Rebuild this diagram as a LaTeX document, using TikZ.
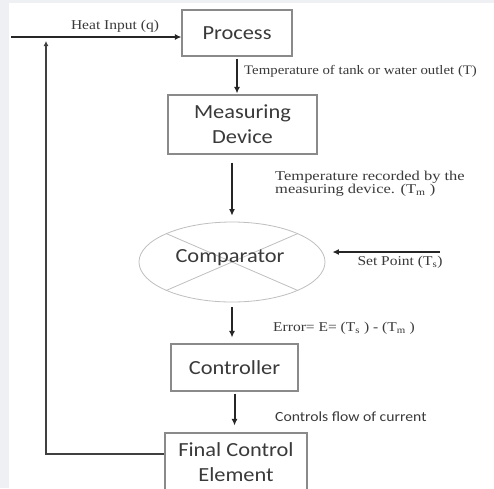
\documentclass[tikz,border=0pt]{standalone}
\usepackage{fontspec}
\usepackage{graphicx}
\setmainfont{Liberation Serif}
\newfontfamily\boxfont{Carlito}
\usetikzlibrary{arrows.meta,shapes.geometric}
\definecolor{bgstrip}{HTML}{EEF0F3}
\definecolor{boxline}{HTML}{8A8A8A}
\definecolor{txt}{HTML}{3A3A3A}
\newcommand{\sxa}[1]{\scalebox{1.12}[1]{#1}}
\newcommand{\sxb}[1]{\scalebox{1.15}[1]{#1}}
\newcommand{\sxc}[1]{\scalebox{1.14}[1]{#1}}
\newcommand{\sxd}[1]{\scalebox{1.22}[1]{#1}}
\begin{document}
\begin{tikzpicture}[x=1pt,y=-1pt,
  blk/.style={draw=boxline,line width=1.1pt,fill=white,font=\boxfont\fontsize{20}{25}\selectfont,text=txt,align=center,inner sep=0pt},
  lbl/.style={font=\fontsize{13.5}{12.5}\selectfont,text=txt,inner sep=0pt},
  arr/.style={line width=2pt,draw=black!85,-{Latex[length=6.5pt,width=6pt]}}]
\clip (0,0) rectangle (494,488);
\fill[bgstrip] (0,0) rectangle (494,488);
\fill[white] (9,3) rectangle (494,488);

\node[blk,minimum width=110pt,minimum height=46pt] (process) at (237,33) {\sxa{Process}};
\node[blk,minimum width=149pt,minimum height=59pt] (meas) at (242.5,124.5) {\sxa{Measuring}\\\sxa{Device}};
\node[ellipse,draw=black!25,line width=0.8pt,minimum width=186pt,minimum height=80pt,inner sep=0pt] (comp) at (232,262) {};
\draw[black!25,line width=0.8pt] (comp.north west) -- (comp.south east);
\draw[black!25,line width=0.8pt] (comp.north east) -- (comp.south west);
\node[font=\boxfont\fontsize{20}{25}\selectfont,text=txt,inner sep=0pt] (comptext) at (230,258) {\sxa{Comparator}};
\node[blk,minimum width=127pt,minimum height=47pt] (ctrl) at (234.5,367.5) {\sxa{Controller}};
\node[blk,minimum width=142pt,minimum height=64pt,text depth=6pt] (fce) at (236,465) {\sxa{Final Control}\\\sxa{Element}};

\draw[arr,shorten <=2pt,shorten >=1pt] (process.south) -- (process.south |- meas.north);
\draw[arr,shorten <=8pt,shorten >=6pt] (comp.north |- meas.south) -- (comp.north);
\draw[arr,shorten <=5pt,shorten >=6pt] (comp.south) -- (comp.south |- ctrl.north);
\draw[arr,shorten <=2pt,shorten >=7pt] (ctrl.south) -- (ctrl.south |- fce.north);

\coordinate (sp) at (440,252);
\draw[arr,shorten >=7pt] (sp) -- (comp.east |- sp);

\coordinate (hin) at (11,37);
\draw[line width=2.2pt,draw=black!85,-{Latex[length=6.5pt,width=6pt]}] (hin) -- (hin -| process.west);
\coordinate (fbtop) at (46,41);
\coordinate (fcel) at ([yshift=11pt]fce.west);
\draw[line width=1.4pt,draw=black!75,-{Latex[length=5pt,width=5pt]}] (fcel) -| (fbtop);

\node[lbl] (lheat) at (115,26) {\sxb{Heat Input (q)}};
\node[lbl,anchor=west,font=\fontsize{13}{12.5}\selectfont] (ltank) at (244,71) {\sxc{Temperature of tank or water outlet (T)}};
\node[lbl,anchor=west,align=left] (lrec) at (275,184) {\sxd{Temperature recorded by the}\\\sxd{measuring device. (T\textsubscript{m} )}};
\node[lbl] (lsp) at (400,262) {\sxb{Set Point (T\textsubscript{s})}};
\node[lbl,anchor=west] (lerr) at (273,328) {\sxb{Error= E= (T\textsubscript{s} ) - (T\textsubscript{m} )}};
\node[lbl,anchor=west,font=\boxfont\fontsize{14}{16}\selectfont] (lctl) at (275,417) {\sxa{Controls flow of current}};
\end{tikzpicture}
\end{document}
